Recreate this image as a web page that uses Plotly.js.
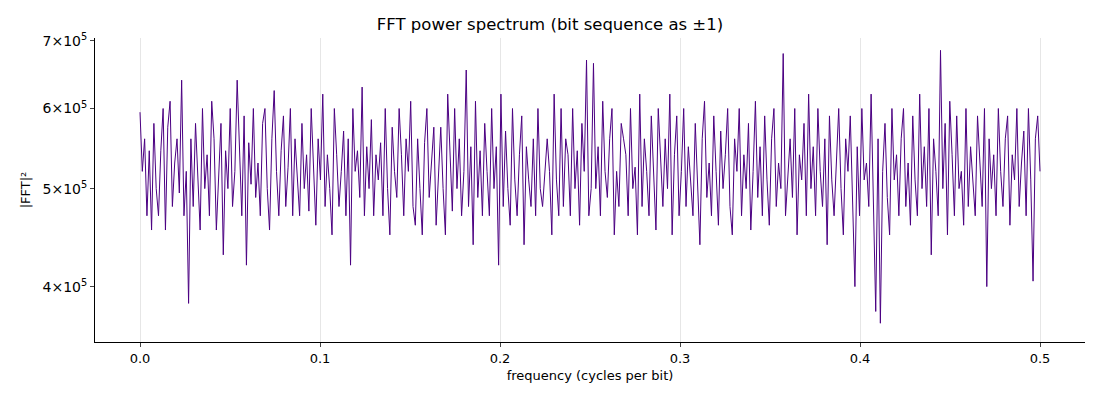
<!DOCTYPE html>
<html><head><meta charset="utf-8">
<script src="https://cdn.plot.ly/plotly-3.0.1.min.js"></script>
<style>body{margin:0}#plot{width:1100px;height:400px}</style>
</head><body><div id="plot"></div>
<script>
// |FFT|^2 values in thousands, evenly spaced from 0 to 0.5 cycles/bit
var power_k = [
595,520,560,470,545,455,580,500,470,545,
600,455,575,610,480,530,560,495,640,470,
520,385,560,480,580,520,455,600,500,540,
470,610,560,455,520,580,430,545,500,600,
480,520,640,540,470,590,420,555,505,600,
490,530,470,580,600,500,455,560,625,520,
470,545,590,480,525,600,470,560,510,470,
580,500,540,475,600,520,460,560,510,620,
480,540,500,450,600,540,480,520,570,470,
560,420,600,520,545,490,630,470,550,500,
585,470,540,510,555,470,600,500,450,575,
520,490,600,540,470,560,520,610,480,460,
560,500,450,555,600,490,530,575,460,520,
575,500,450,620,540,475,600,500,560,470,
520,655,480,550,440,610,490,545,470,580,
520,470,600,500,550,420,620,480,570,500,
460,600,510,470,540,590,440,550,510,480,
560,470,600,500,480,520,560,520,450,620,
510,470,600,480,560,540,470,600,500,545,
460,580,520,670,470,500,665,500,550,470,
610,520,490,560,600,450,520,480,580,560,
540,470,600,500,525,450,620,480,560,520,
470,590,510,455,600,530,480,560,500,620,
450,540,590,470,520,600,480,550,510,470,
580,500,440,560,610,490,530,470,590,520,
460,570,500,540,600,480,450,560,520,600,
470,540,500,580,455,520,610,490,550,470,
590,510,460,560,600,480,530,500,680,470,
520,560,490,600,450,540,510,580,470,620,
500,550,470,600,520,480,560,440,590,510,
470,540,600,500,450,560,520,590,480,400,
550,470,600,510,530,480,620,470,378,560,
368,520,580,490,450,600,510,540,470,560,
600,480,530,460,590,510,470,620,500,550,
480,600,430,560,520,470,685,500,580,450,
610,540,470,590,500,520,460,600,480,550,
510,470,590,530,480,600,400,560,500,540,
470,600,520,480,560,590,460,540,510,600,
480,530,570,470,600,510,405,560,590,520
];
var df = 0.5 / (power_k.length - 1);
var freq = power_k.map((v, i) => i * df);
var power = power_k.map(v => v * 1000);

var trace = {
  x: freq, y: power, type: "scatter", mode: "lines",
  line: {color: "#4b0082", width: 1}
};

var layout = {
  width: 1100, height: 400,
  margin: {l: 95, r: 15, t: 38, b: 58},
  paper_bgcolor: "white", plot_bgcolor: "white",
  font: {family: "DejaVu Sans", size: 13, color: "black"},
  title: {text: "FFT power spectrum (bit sequence as ±1)", font: {size: 16.5}, x: 0.5, y: 0.955},
  showlegend: false,
  xaxis: {
    range: [-0.025, 0.525], tickvals: [0, 0.1, 0.2, 0.3, 0.4, 0.5],
    ticktext: ["0.0", "0.1", "0.2", "0.3", "0.4", "0.5"],
    tickfont: {size: 13},
    showgrid: true, gridcolor: "#e6e6e6", zeroline: false,
    showline: true, linecolor: "black", ticks: "outside", ticklen: 4,
    title: {text: "frequency (cycles per bit)", font: {size: 13}, standoff: 6},
    automargin: false
  },
  yaxis: {
    type: "log", range: [Math.log10(352600), Math.log10(704500)],
    tickvals: [400000, 500000, 600000, 700000],
    ticktext: ["4×10<sup>5</sup>", "5×10<sup>5</sup>", "6×10<sup>5</sup>", "7×10<sup>5</sup>"],
    tickfont: {size: 14},
    showgrid: false, zeroline: false,
    showline: true, linecolor: "black", ticks: "outside", ticklen: 4,
    title: {text: "|FFT|²", font: {size: 13}, standoff: 8},
    automargin: false
  }
};
Plotly.newPlot("plot", [trace], layout, {displayModeBar: false});
</script></body></html>
